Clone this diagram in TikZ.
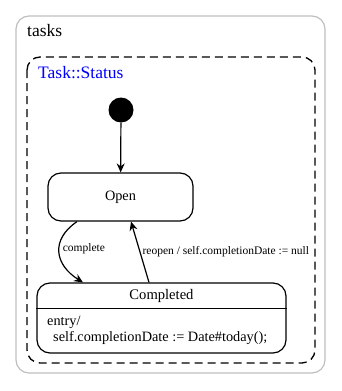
\documentclass[tikz,border=0pt]{standalone}
\usepackage{fontspec}
\setmainfont{LiberationSerif}[Extension=.ttf, UprightFont=*-Regular]
\usetikzlibrary{arrows.meta}

\tikzset{
    state/.style={draw, line width=1.2pt, rounded corners=13pt, inner sep=0pt},
    trans/.style={line width=1.2pt, -{Stealth[length=9pt, width=8pt, inset=3pt]}},
    guard/.style={font=\fontsize{11.5}{13}\selectfont, inner sep=0pt},
}

\begin{document}
\begin{tikzpicture}[x=1pt, y=-1pt]
    \useasboundingbox (0, 0) rectangle (341, 391);
    \draw[black!25, line width=1.2pt, rounded corners=13pt] (16, 16) rectangle (325, 373);
    \node[anchor=base west, inner sep=0pt, font=\fontsize{17.5}{20}\selectfont] (tasks) at (27, 36) {tasks};
    \draw[line width=1.3pt, dash pattern=on 8pt off 5pt, rounded corners=13pt] (27, 57) rectangle (315, 363);
    \node[anchor=base west, inner sep=0pt, text=blue, font=\fontsize{17.5}{20}\selectfont] (status) at (38, 78) {Task::Status};

    \node[circle, fill=black, minimum size=25pt, inner sep=0pt] (init) at (121, 110) {};
    \node[state, minimum width=145pt, minimum height=48pt, font=\fontsize{14.3}{16}\selectfont] (open) at (120.5, 197) {Open};
    \node[state, minimum width=249pt, minimum height=70pt] (completed) at (161.5, 318) {};
    \node[anchor=base, inner sep=0pt, font=\fontsize{14.6}{16}\selectfont] (completedname) at (161.5, 299) {Completed};
    \draw[line width=1.2pt] ([yshift=-26pt]completed.north west) -- ([yshift=-26pt]completed.north east);
    \node[anchor=base west, inner sep=0pt, font=\fontsize{14.3}{16}\selectfont] (entry) at (47, 325) {entry/};
    \node[anchor=base west, inner sep=0pt, font=\fontsize{14.3}{16}\selectfont] (entryaction) at (53, 341) {self.completionDate := Date\#today();};

    \draw[trans] (init) -- (open);
    \draw[trans] ([xshift=-43.5pt]open.south) .. controls (50, 240) and (55, 265) .. ([xshift=-78.5pt]completed.north) node[guard, pos=0.45, anchor=west, xshift=3pt] (complete) {complete};
    \draw[trans] ([xshift=-12.5pt]completed.north) -- ([xshift=10.5pt]open.south) node[guard, pos=0.5, anchor=west, xshift=2pt] (reopen) {reopen / self.completionDate := null};
\end{tikzpicture}
\end{document}
